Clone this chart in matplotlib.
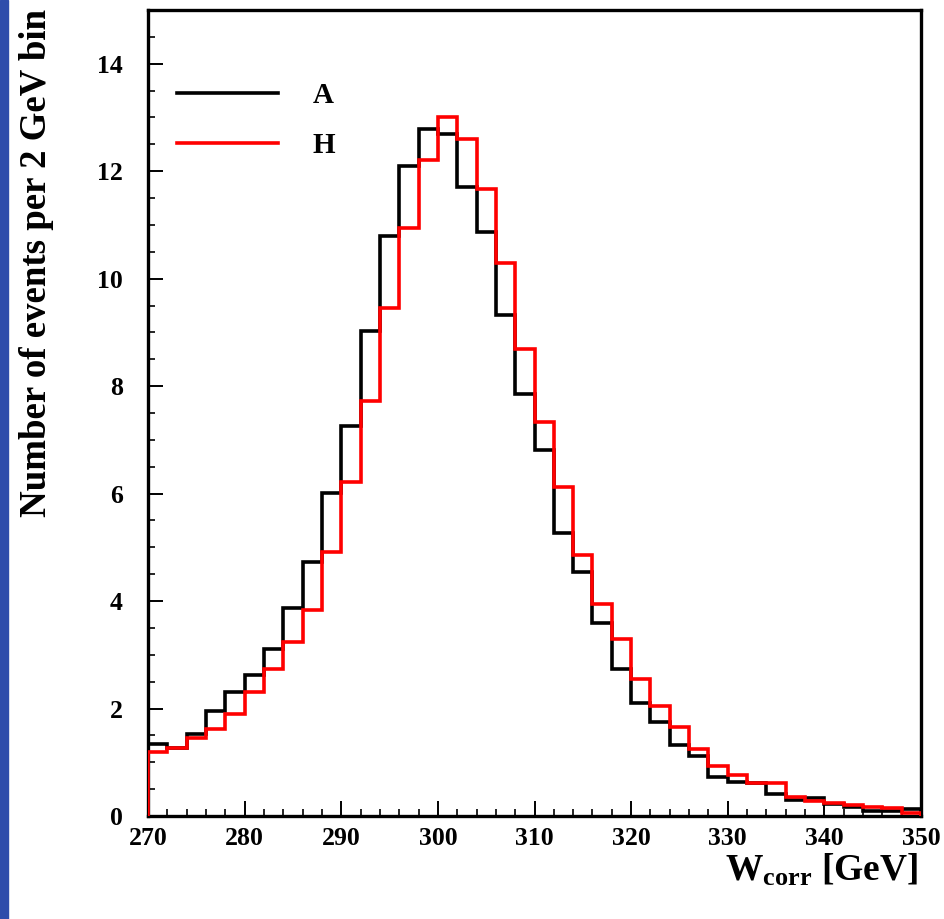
import numpy as np
import matplotlib.pyplot as plt
from matplotlib.patches import Rectangle
from matplotlib.ticker import MultipleLocator

# 2 GeV bins from 270 to 350
bin_edges = np.arange(270, 352, 2)

hist_A = [1.34, 1.27, 1.53, 1.96, 2.30, 2.62, 3.11, 3.88, 4.73, 6.02,
          7.25, 9.02, 10.80, 12.09, 12.78, 12.69, 11.71, 10.86, 9.33, 7.86,
          6.82, 5.27, 4.54, 3.60, 2.73, 2.11, 1.75, 1.33, 1.12, 0.73,
          0.64, 0.61, 0.41, 0.30, 0.33, 0.22, 0.17, 0.10, 0.10, 0.13]

hist_H = [1.20, 1.26, 1.46, 1.61, 1.89, 2.30, 2.73, 3.23, 3.83, 4.91,
          6.22, 7.72, 9.46, 10.95, 12.21, 13.00, 12.60, 11.67, 10.30, 8.69,
          7.33, 6.13, 4.86, 3.95, 3.29, 2.55, 2.05, 1.65, 1.25, 0.93,
          0.77, 0.62, 0.62, 0.35, 0.28, 0.24, 0.20, 0.16, 0.15, 0.05]

labels = ['A', 'H']
colors = ['black', 'red']

plt.rcParams['font.family'] = 'Liberation Serif'
plt.rcParams['font.weight'] = 'bold'
plt.rcParams['mathtext.fontset'] = 'custom'
plt.rcParams['mathtext.rm'] = 'Liberation Serif:bold'
plt.rcParams['mathtext.it'] = 'Liberation Serif:bold'
plt.rcParams['mathtext.bf'] = 'Liberation Serif:bold'
plt.rcParams['mathtext.default'] = 'rm'

fig = plt.figure(figsize=(9.44, 9.19), dpi=100)
ax = fig.add_axes([148 / 944, 1 - 816 / 919, 773 / 944, 806 / 919])

# blue strip on the left edge
fig.patches.append(Rectangle((0, 0), 8 / 944, 1, transform=fig.transFigure,
                             color='#2f4dab', zorder=0))

for vals, lab, col in zip([hist_A, hist_H], labels, colors):
    ax.stairs(vals, bin_edges, baseline=0, color=col, linewidth=2.6, label=lab,
              zorder=3)

ax.set_xlim(270, 350)
ax.set_ylim(0, 15)
ax.set_yticks(np.arange(0, 15, 2))
ax.yaxis.set_minor_locator(MultipleLocator(0.5))
ax.xaxis.set_major_locator(MultipleLocator(10))
ax.xaxis.set_minor_locator(MultipleLocator(2))

for side in ['top', 'bottom', 'left', 'right']:
    ax.spines[side].set_linewidth(2.4)

ax.tick_params(axis='both', which='major', direction='in', length=10.5, width=1.4,
               labelsize=18.5)
ax.tick_params(axis='both', which='minor', direction='in', length=5, width=1.2)
ax.tick_params(axis='y', which='major', pad=18)
ax.tick_params(axis='x', which='major', pad=8)

fig.text(37 / 944, 1 - 263 / 919, 'Number of events per 2 GeV bin', rotation=90,
         ha='center', va='center', fontsize=26.6, fontweight='bold')
fig.text(918 / 944, 1 - 870 / 919, r'W$_{\mathrm{corr}}$ [GeV]', ha='right',
         va='center', fontsize=27, fontweight='bold')

ax.legend(loc='upper left', bbox_to_anchor=(0.0375, 0.911), frameon=False,
          fontsize=21, handlelength=3.45, handletextpad=1.2, labelspacing=0.8,
          borderpad=0, borderaxespad=0)

plt.savefig('out.png', dpi=100)
